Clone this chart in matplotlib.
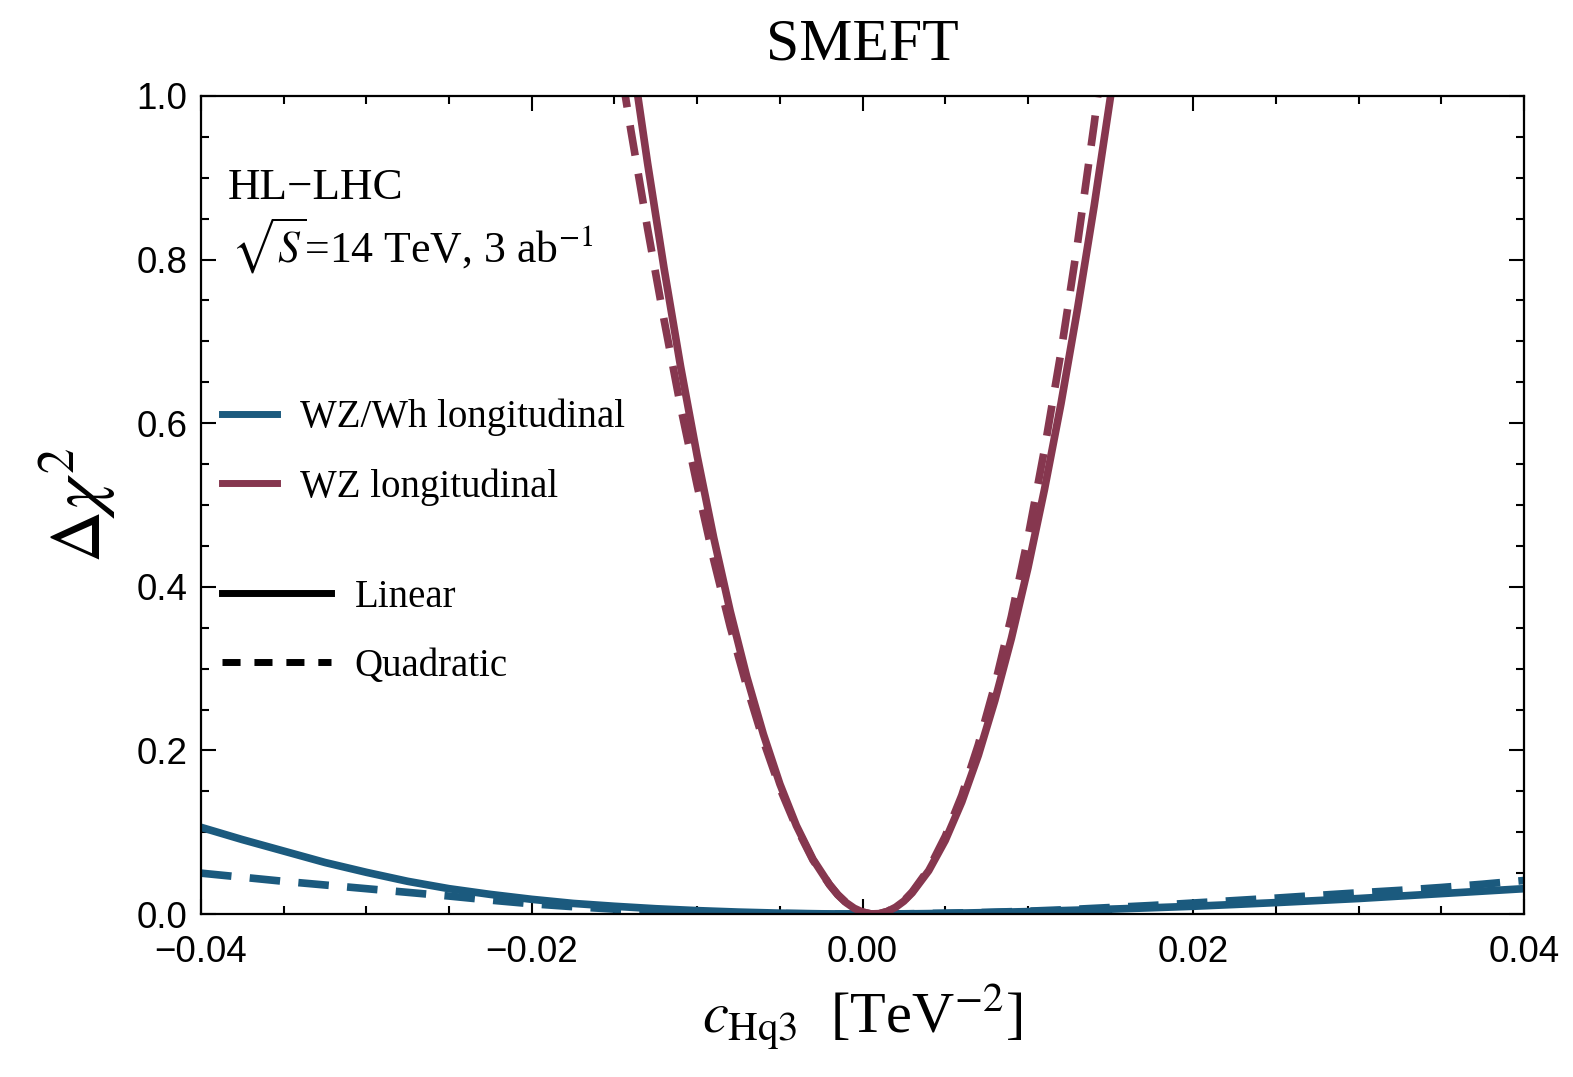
import matplotlib
matplotlib.use("Agg")
import matplotlib.pyplot as plt
from matplotlib.lines import Line2D

plt.rcParams["mathtext.fontset"] = "stix"
plt.rcParams["font.family"] = "serif"
plt.rcParams["font.serif"] = ["Liberation Serif", "DejaVu Serif"]

# ------------------------------
# data
# ------------------------------
# WZ/Wh longitudinal (blue)
c_blue = [-0.0400, -0.0375, -0.0350, -0.0325, -0.0300, -0.0275, -0.0250, -0.0225,
          -0.0200, -0.0175, -0.0150, -0.0125, -0.0100, -0.0075, -0.0050, -0.0025,
          0.0000, 0.0025, 0.0050, 0.0075, 0.0100, 0.0125, 0.0150, 0.0175,
          0.0200, 0.0225, 0.0250, 0.0275, 0.0300, 0.0325, 0.0350, 0.0375, 0.0400]
blue_linear = [0.106, 0.091, 0.077, 0.063, 0.051, 0.040, 0.031, 0.024,
               0.018, 0.013, 0.0095, 0.0065, 0.0042, 0.0024, 0.0011, 0.0003,
               0.0, 0.0002, 0.0008, 0.0018, 0.003, 0.0045, 0.006, 0.0077,
               0.0095, 0.0117, 0.014, 0.0165, 0.019, 0.022, 0.025, 0.028, 0.031]
blue_quad = [0.050, 0.045, 0.040, 0.0355, 0.031, 0.0265, 0.022, 0.017,
             0.0125, 0.009, 0.006, 0.004, 0.0025, 0.0013, 0.0006, 0.0001,
             0.0, 0.0003, 0.001, 0.002, 0.0035, 0.0055, 0.008, 0.0105,
             0.0135, 0.0165, 0.0195, 0.0228, 0.026, 0.029, 0.0325, 0.0365, 0.041]

# WZ longitudinal (red)
c_red = [-0.015, -0.014, -0.013, -0.012, -0.011, -0.010, -0.009, -0.008, -0.007,
         -0.006, -0.005, -0.004, -0.003, -0.002, -0.0015, -0.001, -0.0005, 0.000,
         0.0005, 0.001, 0.0015, 0.002, 0.0025, 0.003, 0.004, 0.005, 0.006, 0.007,
         0.008, 0.009, 0.010, 0.011, 0.012, 0.013, 0.014, 0.015, 0.016]
red_linear = [1.205, 1.057, 0.918, 0.789, 0.669, 0.560, 0.460, 0.370, 0.290,
              0.220, 0.159, 0.108, 0.067, 0.036, 0.0237, 0.014, 0.0070, 0.0024,
              0.0002, 0.0004, 0.0031, 0.0083, 0.0158, 0.026, 0.053, 0.090, 0.137,
              0.194, 0.261, 0.337, 0.423, 0.519, 0.624, 0.740, 0.865, 1.000, 1.145]
red_quad = [1.082, 0.957, 0.838, 0.726, 0.620, 0.524, 0.433, 0.351, 0.278,
            0.212, 0.154, 0.106, 0.066, 0.036, 0.0236, 0.014, 0.0070, 0.0024,
            0.0002, 0.0004, 0.0032, 0.0086, 0.0163, 0.027, 0.055, 0.095, 0.145,
            0.207, 0.280, 0.364, 0.460, 0.568, 0.687, 0.820, 0.965, 1.123, 1.295]

BLUE = "#1b5a7e"
RED = "#86374f"
DASH = (0, (4.0, 2.4))

fig = plt.figure(figsize=(15.73, 10.77), dpi=100)
ax = fig.add_axes([0.1278, 0.1513, 0.8411, 0.7596])

ax.plot(c_blue, blue_linear, color=BLUE, lw=5.5, solid_capstyle="butt")
ax.plot(c_blue, blue_quad, color=BLUE, lw=5.5, ls=DASH)
ax.plot(c_red, red_linear, color=RED, lw=5.5, solid_capstyle="butt")
ax.plot(c_red, red_quad, color=RED, lw=5.5, ls=DASH)

ax.set_xlim(-0.04, 0.04)
ax.set_ylim(0.0, 1.0)
ax.set_xticks([-0.04, -0.02, 0.0, 0.02, 0.04])
ax.set_yticks([0.0, 0.2, 0.4, 0.6, 0.8, 1.0])
ax.set_xticklabels(["\u22120.04", "\u22120.02", "0.00", "0.02", "0.04"])
ax.set_yticklabels(["0.0", "0.2", "0.4", "0.6", "0.8", "1.0"])
ax.minorticks_on()
ax.xaxis.set_minor_locator(matplotlib.ticker.MultipleLocator(0.005))
ax.yaxis.set_minor_locator(matplotlib.ticker.MultipleLocator(0.05))
ax.tick_params(which="both", direction="in", top=True, right=True, width=1.5)
ax.tick_params(which="major", length=11)
ax.tick_params(which="minor", length=6)
ax.tick_params(axis="x", which="major", pad=15)
ax.tick_params(axis="y", which="major", pad=10)
for lab in ax.get_xticklabels() + ax.get_yticklabels():
    lab.set_family("Liberation Sans")
    lab.set_fontsize(26.5)
for sp in ax.spines.values():
    sp.set_linewidth(1.6)

ax.set_title("SMEFT", fontsize=43, pad=26)
ax.set_xlabel(r"$c_{\rm Hq3}$  [TeV$^{-2}$]", fontsize=42, labelpad=9)
ax.set_ylabel(r"$\Delta\chi^2$", fontsize=52, labelpad=12)

ax.text(0.0204, 0.874, "HL\u2212LHC", transform=ax.transAxes, fontsize=32.5,
        va="baseline", ha="left")
ax.text(0.023, 0.796, r"$\sqrt{S}$=14 TeV, 3 ab$^{-1}$", transform=ax.transAxes,
        fontsize=31.5, va="baseline", ha="left")

# ----- legends -----
proc_handles = [Line2D([], [], color=BLUE, lw=5),
                Line2D([], [], color=RED, lw=5)]
leg1 = ax.legend(proc_handles, ["WZ/Wh longitudinal", "WZ longitudinal"],
                 loc="upper left", bbox_to_anchor=(0.016, 0.630), frameon=False,
                 fontsize=28, handlelength=1.4, handletextpad=0.6,
                 labelspacing=0.82, borderpad=0, borderaxespad=0)
ax.add_artist(leg1)

style_handles = [Line2D([], [], color="black", lw=5),
                 Line2D([], [], color="black", lw=5, ls=(0, (2.6, 2.0)))]
ax.legend(style_handles, ["Linear", "Quadratic"],
          loc="upper left", bbox_to_anchor=(0.016, 0.410), frameon=False,
          fontsize=28, handlelength=2.8, handletextpad=0.6,
          labelspacing=0.82, borderpad=0, borderaxespad=0)

fig.savefig("out.png", dpi=100)
